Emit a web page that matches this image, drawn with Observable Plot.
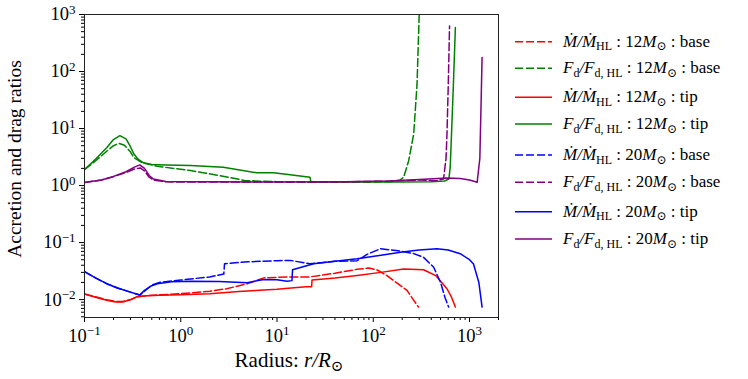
<!DOCTYPE html>
<html><head><meta charset="utf-8">
<script src="https://cdn.jsdelivr.net/npm/d3@7"></script>
<script src="https://cdn.jsdelivr.net/npm/@observablehq/plot@0.6"></script>
<style>body{margin:0;background:#fff} svg{display:block}</style>
</head><body><div id="chart"></div>
<script>
// ---- data (radius r/Rsun, ratio) ----
const r_m12_base = [0.1,0.13,0.17,0.21,0.25,0.3,0.35,0.45,0.6,1,2,3,4.9,7.3,10,15,22,40,68,90,110,140,180,224,260,295];
const v_m12_base = [0.0125,0.0112,0.0099,0.0093,0.0093,0.0100,0.0112,0.0118,0.0121,0.0127,0.0140,0.0155,0.019,0.024,0.0245,0.025,0.025,0.029,0.034,0.0357,0.033,0.026,0.019,0.0145,0.010,0.0074];
const r_f12_base = [0.1,0.13,0.17,0.2,0.227,0.26,0.3,0.325,0.4,0.57,1.26,2.5,4.7,10,30,100,150,190,207,233,263,285,292,300];
const v_f12_base = [1.9,2.7,4.0,5.0,5.5,5.1,3.9,3.1,2.5,2.18,1.83,1.5,1.22,1.17,1.15,1.15,1.17,1.25,1.4,2.7,8.0,60,230,1000];
const r_m12_tip = [0.1,0.13,0.17,0.21,0.25,0.3,0.35,0.45,0.6,1,2,4,6,10,15,20,22.9,23.1,40,68,120,207,333,450,583,650,713];
const v_m12_tip = [0.0125,0.0110,0.0097,0.0091,0.0091,0.0099,0.0112,0.0117,0.0119,0.0122,0.0127,0.0138,0.0145,0.0152,0.0162,0.0168,0.0168,0.0220,0.0238,0.0265,0.030,0.0345,0.0334,0.026,0.0155,0.011,0.0074];
const r_f12_tip = [0.1,0.13,0.17,0.2,0.233,0.27,0.3,0.325,0.36,0.41,0.5,0.7,1.26,2.77,6.2,9.2,13.7,22,22.5,50,100,200,400,550,610,630,650,680,713];
const v_f12_tip = [1.9,2.9,4.6,6.4,7.5,6.6,4.8,3.6,2.9,2.5,2.35,2.3,2.24,2.1,1.67,1.67,1.54,1.4,1.15,1.15,1.15,1.15,1.17,1.2,1.3,2.1,8,60,590];
const r_m20_base = [0.1,0.13,0.17,0.22,0.3,0.375,0.42,0.5,0.6,1,2,2.8,2.85,5,10,13.7,22,40,68,86,119,180,263,333,424,500,555,607];
const v_m20_base = [0.031,0.024,0.019,0.016,0.0135,0.012,0.0140,0.018,0.020,0.022,0.025,0.028,0.0425,0.046,0.048,0.0487,0.0425,0.047,0.048,0.062,0.078,0.072,0.064,0.055,0.037,0.020,0.011,0.0074];
const r_f20_base = [0.1,0.15,0.2,0.27,0.33,0.38,0.42,0.47,0.52,0.7,2,10,50,150,300,450,537,570,583,600,607,620];
const v_f20_base = [1.13,1.25,1.43,1.7,1.95,2.04,1.8,1.4,1.25,1.16,1.15,1.15,1.16,1.2,1.25,1.22,1.3,3,8,50,118,630];
const r_m20_tip = [0.1,0.13,0.17,0.22,0.3,0.375,0.42,0.5,0.57,0.8,1.26,2.5,4.9,7.3,10,12.7,14.3,14.5,24,40,68,120,200,300,459,600,800,1000,1100,1250,1350];
const v_m20_tip = [0.031,0.024,0.019,0.016,0.0135,0.012,0.0145,0.0175,0.019,0.0205,0.0209,0.0207,0.0198,0.0226,0.0222,0.021,0.0215,0.0334,0.0425,0.047,0.052,0.060,0.068,0.074,0.078,0.074,0.0637,0.050,0.042,0.020,0.0074];
const r_f20_tip = [0.1,0.15,0.2,0.27,0.33,0.375,0.42,0.47,0.52,0.7,2,10,50,150,300,583,800,1000,1200,1280,1320,1350];
const v_f20_tip = [1.13,1.25,1.45,1.75,2.1,2.3,2.0,1.5,1.3,1.18,1.16,1.15,1.17,1.2,1.28,1.36,1.33,1.25,1.14,3,30,177];

const xTicks = [0.1, 1, 10, 100, 1000];
const yTicks = [0.01, 0.1, 1, 10, 100, 1000];
const xLabel = "Radius: ";
const yLabel = "Accretion and drag ratios";

const series = [
  {r: r_m12_base, v: v_m12_base, color: "#ff0000", dash: true,  kind: "M", mass: "12", pos: "base"},
  {r: r_f12_base, v: v_f12_base, color: "#008000", dash: true,  kind: "F", mass: "12", pos: "base"},
  {r: r_m12_tip,  v: v_m12_tip,  color: "#ff0000", dash: false, kind: "M", mass: "12", pos: "tip"},
  {r: r_f12_tip,  v: v_f12_tip,  color: "#008000", dash: false, kind: "F", mass: "12", pos: "tip"},
  {r: r_m20_base, v: v_m20_base, color: "#0000ff", dash: true,  kind: "M", mass: "20", pos: "base"},
  {r: r_f20_base, v: v_f20_base, color: "#800080", dash: true,  kind: "F", mass: "20", pos: "base"},
  {r: r_m20_tip,  v: v_m20_tip,  color: "#0000ff", dash: false, kind: "M", mass: "20", pos: "tip"},
  {r: r_f20_tip,  v: v_f20_tip,  color: "#800080", dash: false, kind: "F", mass: "20", pos: "tip"}
];

const minor = (lo, hi) => {
  const out = [];
  for (let e = -4; e <= 4; e++) for (let k = 2; k <= 9; k++) {
    const v = k * Math.pow(10, e);
    if (v >= lo && v <= hi) out.push(v);
  }
  return out;
};
const fmt = d => "10^" + Math.round(Math.log10(d));
const serif = "'Liberation Serif', 'Times New Roman', 'DejaVu Serif', serif";

const lineMarks = series.map(s => Plot.line(d3.zip(s.r, s.v), {
  x: d => d[0], y: d => d[1], stroke: s.color, strokeWidth: 1.5,
  strokeDasharray: s.dash ? "8,3" : null, clip: true
}));

const chart = Plot.plot({
  width: 748, height: 379,
  marginLeft: 84, marginRight: 250, marginTop: 14, marginBottom: 62,
  style: {fontFamily: serif, fontSize: "18.5px", background: "white", color: "black", overflow: "visible"},
  x: {type: "log", domain: [0.1, 2000]},
  y: {type: "log", domain: [0.00485, 1000]},
  marks: [
    ...lineMarks,
    Plot.axisX(minor(0.1, 2000), {tickSize: 3, tickFormat: () => "", label: null}),
    Plot.axisX(xTicks, {tickSize: 5, tickPadding: 6, tickFormat: fmt, label: null, fontSize: 18.5}),
    Plot.axisY(minor(0.00485, 1000), {tickSize: 3, tickFormat: () => "", label: null}),
    Plot.axisY(yTicks, {tickSize: 5, tickPadding: 4, tickFormat: fmt, label: null, fontSize: 18.5}),
    Plot.frame({stroke: "#222", strokeWidth: 1})
  ]
});
document.getElementById("chart").appendChild(chart);

const svg = d3.select(chart);
// superscript tick labels
svg.selectAll("text").each(function() {
  const t = this.textContent;
  if (!t.startsWith("10^")) return;
  const exp = t.slice(3).replace("-", "\u2212");
  const sel = d3.select(this);
  sel.text(null);
  sel.append("tspan").text("10");
  sel.append("tspan").attr("dy", -6.5).attr("font-size", 13).text(exp);
});

// axis titles
const xt = svg.append("text").attr("x", 289).attr("y", 367).attr("text-anchor", "middle")
  .attr("font-family", serif).attr("font-size", 21).attr("fill", "black");
xt.append("tspan").text(xLabel);
xt.append("tspan").attr("font-style", "italic").text("r/R");
xt.append("tspan").attr("dy", 4).attr("font-size", 15).text("\u2299");

svg.append("text").attr("transform", "translate(21,159) rotate(-90)").attr("text-anchor", "middle")
  .attr("font-family", serif).attr("font-size", 19.5).attr("fill", "black").text(yLabel);

// legend
const rowsY = [41.7, 68.3, 97.3, 124, 155, 182.3, 211.7, 239];
const lg = svg.append("g").attr("font-family", serif).attr("font-size", 17).attr("fill", "black")
  .attr("text-anchor", "start");
series.forEach((s, i) => {
  const y = rowsY[i];
  lg.append("line").attr("x1", 515).attr("x2", 552).attr("y1", y).attr("y2", y)
    .attr("stroke", s.color).attr("stroke-width", 1.5).attr("stroke-dasharray", s.dash ? "8,3" : null);
  const t = lg.append("text").attr("x", 563).attr("y", y + 5);
  const it = str => t.append("tspan").attr("font-style", "italic").text(str);
  const sub = str => { t.append("tspan").attr("dy", 3.5).attr("font-size", 12).text(str); };
  const norm = str => t.append("tspan").attr("dy", -3.5).text(str);
  if (s.kind === "M") {
    it("\u1E40/\u1E40");
    sub("HL");
  } else {
    it("F");
    sub("d");
    t.append("tspan").attr("dy", -3.5).attr("font-style", "italic").text("/F");
    sub("d, HL");
  }
  norm(" : " + s.mass);
  it("M");
  sub("\u2299");
  norm(" : " + s.pos);
});
</script>
</body></html>
